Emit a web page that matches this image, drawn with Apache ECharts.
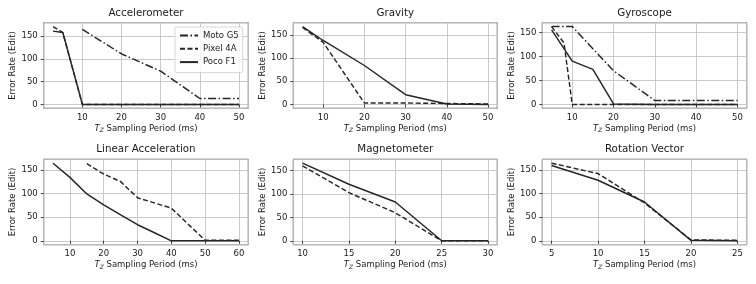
<!DOCTYPE html>
<html><head><meta charset="utf-8">
<script src="https://cdn.jsdelivr.net/npm/echarts@6/dist/echarts.min.js"></script>
<style>html,body{margin:0;padding:0;background:#fff}#c{width:756px;height:284px}</style>
</head><body><div id="c"></div>
<script>
// ---- data ----
const titles = ['Accelerometer','Gravity','Gyroscope','Linear Acceleration','Magnetometer','Rotation Vector'];
const seriesNames = ['Moto G5','Pixel 4A','Poco F1'];

const accMotoX = [10,20,30,40,50];
const accMoto  = [165,111,73,13,13];
const accPixelX = [2.5,5,10,20,30,40,50];
const accPixel  = [171,158,0,0,0,0,0];
const accPocoX = [2.5,5,10,20,30,40,50];
const accPoco  = [161,158,0,0,0,0,0];

const gravPixelX = [5,10,20,30,40,50];
const gravPixel  = [166,134,3,3,2,1];
const gravPocoX = [5,10,20,30,40,50];
const gravPoco  = [168,138,84,21,1,0];

const gyroMotoX = [5,10,20,30,40,50];
const gyroMoto  = [162,162,70,8,8,8];
const gyroPixelX = [5,8,10,15,20,30,40,50];
const gyroPixel  = [162,128,0,0,0,0,0,0];
const gyroPocoX = [5,10,15,20,30,40,50];
const gyroPoco  = [155,90,73,1,0,0,0];

const linPixelX = [15,20,25,30,40,50,60];
const linPixel  = [163,141,125,91,69,1,1];
const linPocoX = [5,10,15,20,25,30,35,40,50,60];
const linPoco  = [164,134,99,76,55,34,17,0,0,0];

const magPixelX = [10,15,20,25,30];
const magPixel  = [160,103,60,0,0];
const magPocoX = [10,15,20,25,30];
const magPoco  = [166,121,83,0,0];

const rotPixelX = [5,10,15,20,25];
const rotPixel  = [164,142,80,2,1];
const rotPocoX = [5,10,15,20,25];
const rotPoco  = [159,128,82,1,0];

const xTickStep = [10,10,10,10,5,5];
const yTickStep = 50;
const yTickLabels = ['0','50','100','150'];

// panel -> list of [seriesIndexInNames, xs, ys]
const panels = [
  [[0,accMotoX,accMoto],[1,accPixelX,accPixel],[2,accPocoX,accPoco]],
  [[1,gravPixelX,gravPixel],[2,gravPocoX,gravPoco]],
  [[0,gyroMotoX,gyroMoto],[1,gyroPixelX,gyroPixel],[2,gyroPocoX,gyroPoco]],
  [[1,linPixelX,linPixel],[2,linPocoX,linPoco]],
  [[1,magPixelX,magPixel],[2,magPocoX,magPoco]],
  [[1,rotPixelX,rotPixel],[2,rotPocoX,rotPoco]]
];

// ---- layout ----
const FONT = 'DejaVu Sans';
const LINE = '#262626';
const dashes = [[8,2.5,1.5,2.5],[5,2.5],'solid'];
const colLeft = [43.7, 293.3, 542.3];
const colW = [204.6, 204, 204.4];
const rowTop = [22.7, 159.3];
const rowH = [85.6, 85.4];

const grids=[], xAxes=[], yAxes=[], series=[], titleArr=[];
panels.forEach((p,i)=>{
  const r = Math.floor(i/3), c = i%3;
  grids.push({left:colLeft[c], top:rowTop[r], width:colW[c], height:rowH[r], show:true,
    borderColor:'#1a1a1a', borderWidth:0.9, backgroundColor:'transparent', containLabel:false});
  let xs=[], ys=[];
  p.forEach(s=>{xs=xs.concat(s[1]); ys=ys.concat(s[2]);});
  const xmin=Math.min(...xs), xmax=Math.max(...xs), ymin=Math.min(...ys), ymax=Math.max(...ys);
  const xm=(xmax-xmin)*0.05, ym=(ymax-ymin)*0.05;
  xAxes.push({type:'value', gridIndex:i, min:xmin-xm, max:xmax+xm,
    minInterval:xTickStep[i], maxInterval:xTickStep[i], splitNumber:5,
    axisLine:{show:false},
    axisTick:{show:true, length:3, lineStyle:{color:'#1a1a1a', width:0.8}},
    axisLabel:{fontFamily:FONT, fontSize:8.5, color:'#1a1a1a', margin:5, showMinLabel:false, showMaxLabel:false},
    splitLine:{show:true, lineStyle:{color:'#c4c4c4', width:0.9}},
    name:'{i|T}{s|Z}{n| Sampling Period (ms)}', nameLocation:'middle', nameGap:15.5,
    nameTextStyle:{fontFamily:FONT, fontSize:8.5, color:'#1a1a1a',
      rich:{i:{fontFamily:FONT, fontStyle:'italic', fontSize:8.5, color:'#1a1a1a'},
            s:{fontFamily:FONT, fontStyle:'italic', fontSize:6, color:'#1a1a1a', padding:[4,0,0,0]},
            n:{fontFamily:FONT, fontSize:8.5, color:'#1a1a1a'}}}
  });
  yAxes.push({type:'value', gridIndex:i, min:ymin-ym, max:ymax+ym,
    minInterval:yTickStep, maxInterval:yTickStep, splitNumber:4,
    axisLine:{show:false},
    axisTick:{show:true, length:3, lineStyle:{color:'#1a1a1a', width:0.8}},
    axisLabel:{fontFamily:FONT, fontSize:8.5, color:'#1a1a1a', margin:6, showMinLabel:false, showMaxLabel:false,
      formatter:v=>{const k=yTickLabels.indexOf(String(Math.round(v))); return k>=0?yTickLabels[k]:'';}},
    splitLine:{show:true, lineStyle:{color:'#c4c4c4', width:0.9}},
    name:'Error Rate (Edit)', nameLocation:'middle', nameGap:26,
    nameTextStyle:{fontFamily:FONT, fontSize:8.5, color:'#1a1a1a'}
  });
  titleArr.push({text:titles[i], left:colLeft[c]+colW[c]/2, top:rowTop[r]-15.5, textAlign:'center', padding:0,
    textStyle:{fontFamily:FONT, fontSize:10.3, fontWeight:'normal', color:'#1a1a1a', lineHeight:12}});
  p.forEach(s=>{
    series.push({type:'line', name:seriesNames[s[0]], xAxisIndex:i, yAxisIndex:i,
      data:s[1].map((x,k)=>[x,s[2][k]]), symbol:'none', animation:false,
      lineStyle:{color:LINE, width:1.45, type:dashes[s[0]]}, itemStyle:{color:LINE}});
  });
});

const chart = echarts.init(document.getElementById('c'), null, {renderer:'canvas'});
chart.setOption({
  animation:false,
  backgroundColor:'#fff',
  title:titleArr,
  grid:grids, xAxis:xAxes, yAxis:yAxes, series:series,
  legend:{data:seriesNames, orient:'vertical', left:175, top:27, padding:[4,4,6,4],
    itemWidth:18, itemHeight:8, itemGap:4.3,
    itemStyle:{color:'rgba(0,0,0,0)', borderWidth:0, opacity:0},
    backgroundColor:'rgba(255,255,255,0.85)', borderColor:'#cccccc', borderWidth:0.8, borderRadius:2,
    textStyle:{fontFamily:FONT, fontSize:8.5, color:'#1a1a1a'}}
});
</script></body></html>
